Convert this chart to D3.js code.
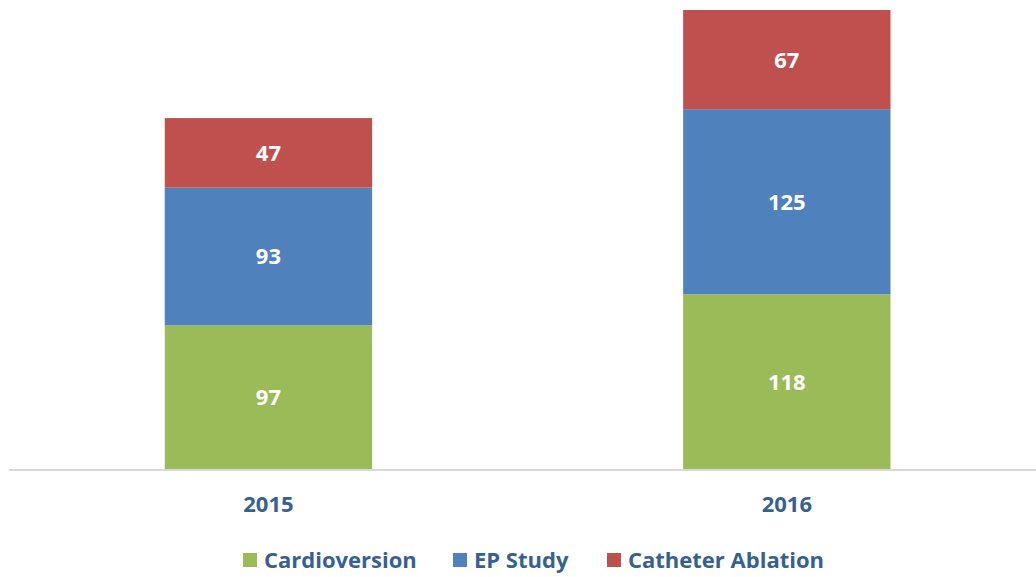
<!DOCTYPE html>
<html>
<head>
<meta charset="utf-8">
<script src="https://d3js.org/d3.v7.min.js"></script>
<style>
  body { margin: 0; background: #fff; }
  text { font-family: 'Open Sans', sans-serif; font-weight: bold; }
  .val { fill: #fff; font-size: 22px; }
  .year { fill: #376092; font-size: 22px; }
  .leg { fill: #376092; font-size: 22px; }
</style>
</head>
<body>
<div id="viz"></div>
<script>
var years = ["2015", "2016"];
var series = ["Cardioversion", "EP Study", "Catheter Ablation"];
var cardioversion = [97, 118];
var epStudy = [93, 125];
var ablation = [47, 67];
var colors = ["#9bbb59", "#4f81bd", "#c0504d"];

var width = 1036, height = 577;

var svg = d3.select("#viz").append("svg")
  .attr("width", width)
  .attr("height", height);

var rows = years.map(function(y, i) {
  return { year: y, "Cardioversion": cardioversion[i], "EP Study": epStudy[i], "Catheter Ablation": ablation[i] };
});
var stacked = d3.stack().keys(series)(rows);

var x = d3.scaleBand()
  .domain(years)
  .range([9.25, 1046])
  .paddingInner(0.6)
  .paddingOuter(0.3);

var y = d3.scaleLinear()
  .domain([0, 310])
  .range([469, 10]);

// bars
var layer = svg.selectAll(".layer")
  .data(stacked)
  .enter().append("g")
  .attr("fill", function(d, i) { return colors[i]; });

layer.selectAll("rect")
  .data(function(d) { return d; })
  .enter().append("rect")
  .attr("x", function(d) { return x(d.data.year); })
  .attr("width", x.bandwidth())
  .attr("y", function(d) { return y(d[1]); })
  .attr("height", function(d) { return y(d[0]) - y(d[1]); });

layer.selectAll("text")
  .data(function(d) { return d; })
  .enter().append("text")
  .attr("class", "val")
  .attr("text-anchor", "middle")
  .attr("dy", "0.36em")
  .attr("x", function(d) { return x(d.data.year) + x.bandwidth() / 2; })
  .attr("y", function(d) { return (y(d[0]) + y(d[1])) / 2; })
  .text(function(d) { return d[1] - d[0]; });

// baseline
svg.append("line")
  .attr("x1", 9).attr("x2", width)
  .attr("y1", y(0) + 1).attr("y2", y(0) + 1)
  .attr("stroke", "#d9d9d9")
  .attr("stroke-width", 2);

// year labels
svg.selectAll(".year")
  .data(years)
  .enter().append("text")
  .attr("class", "year")
  .attr("text-anchor", "middle")
  .attr("x", function(d) { return x(d) + x.bandwidth() / 2; })
  .attr("y", 512)
  .text(function(d) { return d; });

// legend
var legX = [243, 453, 607];
var leg = svg.selectAll(".legitem")
  .data(series)
  .enter().append("g")
  .attr("transform", function(d, i) { return "translate(" + legX[i] + ",0)"; });

leg.append("rect")
  .attr("y", 553)
  .attr("width", 14)
  .attr("height", 14)
  .attr("fill", function(d, i) { return colors[i]; });

leg.append("text")
  .attr("class", "leg")
  .attr("x", 21)
  .attr("y", 568)
  .text(function(d) { return d; });
</script>
</body>
</html>
